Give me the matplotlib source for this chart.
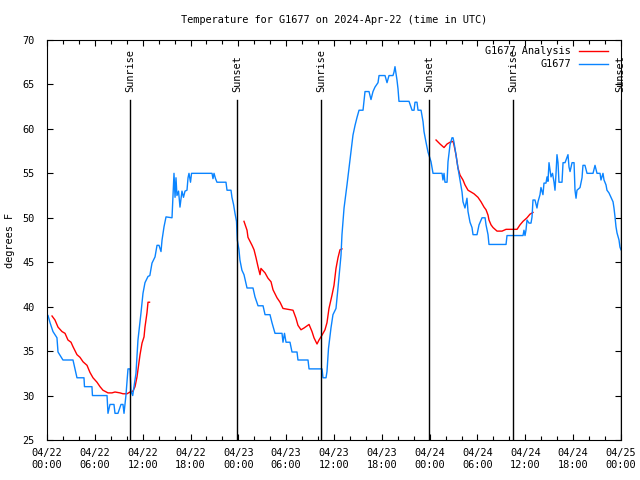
import numpy as np
import matplotlib
matplotlib.use("Agg")
import matplotlib.pyplot as plt
from matplotlib.ticker import MultipleLocator

# ---- data (hours since 2024-04-22 00:00 UTC, degrees F) ----
obs_hours = [0.13, 0.38, 0.75, 1.25, 1.38, 2.0, 3.26, 3.76, 4.64, 4.7, 5.64, 5.7, 7.53, 7.65, 7.9, 8.4, 8.53, 8.9,
             9.28, 9.53, 9.66, 9.9, 10.16, 10.41, 10.54, 10.75, 11.16, 11.41, 11.79, 12.04, 12.29, 12.67, 12.9,
             13.17, 13.55, 13.8, 14.05, 14.3, 14.43, 14.68, 14.93, 15.68, 15.93, 16.06, 16.18, 16.3, 16.5, 16.68,
             16.93, 17.12, 17.31, 17.56, 17.69, 17.81, 18.0, 18.13, 18.31, 20.7, 20.82, 20.95, 21.14, 21.32, 22.45,
             22.58, 23.08, 23.2, 23.4, 23.58, 23.77, 23.87, 24.08, 24.2, 24.45, 24.71, 25.09, 25.84, 26.09, 26.47,
             27.1, 27.35, 27.97, 28.22, 28.6, 29.48, 29.6, 29.79, 29.98, 30.48, 30.73, 31.36, 31.48, 32.74, 32.87,
             34.5, 34.62, 35.0, 35.12, 35.31, 35.62, 35.87, 36.25, 36.5, 36.88, 37.0, 37.26, 37.63, 37.88, 38.13,
             38.38, 38.64, 38.89, 39.14, 39.64, 39.89, 40.39, 40.64, 40.89, 41.14, 41.52, 41.65, 42.4, 42.65, 42.9,
             43.4, 43.53, 43.65, 43.9, 44.03, 44.15, 45.41, 45.79, 46.04, 46.16, 46.41, 46.54, 46.92, 47.17, 47.29,
             47.54, 47.79, 48.17, 48.42, 49.55, 49.67, 49.8, 49.92, 50.18, 50.3, 50.55, 50.8, 50.93, 51.05, 51.3,
             51.55, 51.81, 52.06, 52.18, 52.43, 52.68, 52.81, 53.06, 53.31, 53.44, 53.94, 54.19, 54.57, 54.95,
             55.07, 55.32, 55.44, 57.58, 57.7, 59.71, 59.83, 59.96, 60.08, 60.21, 60.46, 60.71, 60.84, 60.96,
             61.21, 61.46, 61.59, 61.84, 61.96, 62.21, 62.34, 62.59, 62.72, 62.84, 62.97, 63.22, 63.41, 63.6,
             63.72, 63.85, 63.97, 64.1, 64.22, 64.6, 64.73, 64.98, 65.1, 65.35, 65.48, 65.61, 65.86, 66.11, 66.23,
             66.36, 66.48, 66.86, 67.11, 67.23, 67.48, 67.74, 68.49, 68.74, 68.99, 69.37, 69.49, 69.74, 69.87,
             70.12, 70.24, 70.49, 70.74, 71.0, 71.12, 71.25, 71.37, 71.5, 71.75, 71.87, 72.0]
obs_temp = [39.0, 38.2, 37.2, 36.5, 34.9, 34.0, 34.0, 32.0, 32.0, 31.0, 31.0, 30.0, 30.0, 28.0, 29.0, 29.0, 28.0, 28.0,
            29.0, 29.0, 28.0, 30.0, 33.0, 33.0, 30.5, 30.0, 32.5, 36.25, 39.3, 41.5, 42.7, 43.4, 43.5,
            44.9, 45.6, 46.9, 46.9, 46.2, 47.5, 49.0, 50.1, 50.0, 55.0, 52.3, 54.5, 52.5, 53.0, 51.2,
            53.0, 52.3, 53.0, 53.1, 54.5, 55.0, 54.0, 55.0, 55.0, 55.0, 54.4, 55.0, 54.4, 54.0, 54.0,
            53.1, 53.1, 52.3, 51.5, 50.5, 49.6, 47.5, 46.4, 45.25, 44.1, 43.6, 42.1, 42.1, 41.1, 40.1,
            40.1, 39.1, 39.1, 38.2, 37.0, 37.0, 36.0, 37.0, 36.0, 36.0, 34.9, 34.9, 34.0, 34.0, 33.0,
            33.0, 32.0, 32.0, 32.7, 35.3, 37.6, 39.1, 39.8, 42.1, 45.8, 48.1, 51.1, 53.7, 55.6, 57.4,
            59.3, 60.4, 61.3, 62.1, 62.1, 64.2, 64.2, 63.3, 64.2, 64.7, 65.2, 66.0, 66.0, 65.2, 66.0,
            66.0, 66.4, 67.0, 65.5, 64.5, 63.1, 63.1, 62.1, 62.1, 63.0, 63.0, 62.1, 62.1, 60.8, 59.7,
            58.5, 57.4, 56.3, 55.0, 55.0, 54.25, 55.0, 54.0, 54.0, 56.3, 58.2, 59.0, 59.0, 58.5, 57.1,
            55.6, 54.25, 52.9, 51.8, 51.1, 52.2, 50.7, 49.5, 48.9, 48.1, 48.1, 49.2, 50.0, 50.0,
            49.2, 48.1, 47.0, 47.0, 48.0, 48.0, 48.6, 48.0, 48.6, 49.75, 49.4, 49.4, 50.1, 52.0,
            52.0, 51.1, 51.8, 52.6, 53.4, 52.6, 53.9, 53.9, 54.6, 54.1, 56.2, 54.6, 55.0, 54.0,
            53.1, 55.0, 57.1, 56.2, 54.0, 54.0, 56.2, 56.2, 56.5, 57.1, 55.7, 55.2, 56.2, 56.2, 53.1,
            52.2, 53.1, 53.4, 54.5, 55.9, 55.9, 55.0, 55.0, 55.9, 55.0, 55.0, 54.25, 55.0, 54.25,
            53.7, 53.1, 52.8, 52.3, 51.8, 51.1, 50.1, 49.0, 48.3, 47.5, 46.7, 46.4]

ana_hours_1 = [0.63, 1.0, 1.38, 1.88, 2.26, 2.63, 3.01, 3.26, 3.76, 4.14, 4.52, 5.02, 5.39, 5.77, 6.27, 6.65, 7.02,
               7.65, 8.15, 8.53, 9.16, 9.53, 10.04, 10.41, 10.79, 11.04, 11.29, 11.41, 11.67, 11.92, 12.17, 12.29,
               12.54, 12.67, 12.86]
ana_temp_1 = [38.95, 38.5, 37.7, 37.2, 37.0, 36.25, 36.0, 35.5, 34.6, 34.3, 33.8, 33.4, 32.6, 32.0, 31.5, 31.0, 30.6,
              30.3, 30.3, 30.4, 30.3, 30.2, 30.2, 30.4, 30.5, 31.0, 32.1, 32.9, 34.6, 35.9, 36.6, 37.7,
              39.3, 40.5, 40.5]
ana_hours_2 = [24.71, 25.09, 25.21, 25.72, 25.97, 26.22, 26.47, 26.72, 26.84, 27.35, 27.72, 28.1, 28.35, 28.85, 29.23,
               29.6, 30.23, 30.86, 31.23, 31.48, 31.86, 32.24, 32.87, 33.24, 33.49, 33.87, 34.12, 34.5, 34.87, 35.12,
               35.37, 35.75, 36.0, 36.25, 36.5, 36.75, 37.0]
ana_temp_2 = [49.6, 48.6, 47.8, 46.9, 46.4, 45.5, 44.5, 43.6, 44.3, 43.8, 43.2, 42.8, 41.9, 41.0, 40.5,
              39.8, 39.7, 39.6, 38.7, 37.9, 37.4, 37.6, 38.0, 37.2, 36.5, 35.8, 36.25, 36.8, 37.4, 38.2,
              39.8, 41.3, 42.4, 44.3, 45.5, 46.4, 46.5]
ana_hours_3 = [48.8, 49.3, 49.8, 50.18, 50.55, 50.93, 51.05, 51.3, 51.55, 51.81, 52.18, 52.43, 52.81, 53.19, 53.56,
               54.06, 54.44, 54.82, 55.07, 55.32, 55.44, 55.7, 55.95, 56.45, 57.08, 57.58, 58.96, 59.33, 59.71,
               60.21, 60.58, 60.96]
ana_temp_3 = [58.75, 58.3, 57.9, 58.3, 58.5, 58.6, 58.2, 57.1, 55.6, 54.8, 54.25, 53.7, 53.1, 52.9, 52.7,
              52.3, 51.8, 51.2, 50.9, 50.3, 49.75, 49.2, 48.9, 48.5, 48.5, 48.7, 48.7, 49.2, 49.6,
              50.0, 50.4, 50.6]

sun_hours = [10.41, 23.83, 34.37, 47.92, 58.46, 71.95]
sun_labels = ["Sunrise", "Sunset", "Sunrise", "Sunset", "Sunrise", "Sunset"]

xtick_hours = [0, 6, 12, 18, 24, 30, 36, 42, 48, 54, 60, 66, 72]
xtick_labels = ["04/22\n00:00", "04/22\n06:00", "04/22\n12:00", "04/22\n18:00",
                "04/23\n00:00", "04/23\n06:00", "04/23\n12:00", "04/23\n18:00",
                "04/24\n00:00", "04/24\n06:00", "04/24\n12:00", "04/24\n18:00",
                "04/25\n00:00"]

FONT = "DejaVu Sans Mono"
FS = 7.4
plt.rcParams['font.family'] = [FONT]
plt.rcParams['font.size'] = FS

fig = plt.figure(figsize=(6.4, 4.8), dpi=100)
ax = fig.add_axes([47/640, 1 - 440/480, (621-47)/640, 400/480])

ana_h = ana_hours_1 + [np.nan] + ana_hours_2 + [np.nan] + ana_hours_3
ana_t = ana_temp_1 + [np.nan] + ana_temp_2 + [np.nan] + ana_temp_3

ax.plot(ana_h, ana_t, color='#ff0000', lw=1.0, label='G1677 Analysis')
ax.plot(obs_hours, obs_temp, color='#0a84ff', lw=1.0, label='G1677')

for h, lab in zip(sun_hours, sun_labels):
    ax.plot([h, h], [25, 63.3], color='black', lw=1.0)
    ax.text(h, 64.1, lab, rotation=90, ha='center', va='bottom', fontsize=FS, clip_on=False)

ax.set_xlim(0, 72)
ax.set_ylim(25, 70)
ax.set_xticks(xtick_hours)
ax.set_xticklabels(xtick_labels)
ax.xaxis.set_minor_locator(MultipleLocator(2))
ax.yaxis.set_major_locator(MultipleLocator(5))
ax.tick_params(which='both', direction='in', top=True, right=True, width=0.8)
ax.tick_params(which='major', length=4.5)
ax.tick_params(which='minor', length=3)
ax.tick_params(axis='x', which='major', pad=6)
ax.tick_params(axis='y', which='major', pad=9)
for sp in ax.spines.values():
    sp.set_linewidth(0.8)

fig.text(334/640, 1 - 20/480, "Temperature for G1677 on 2024-Apr-22 (time in UTC)",
         ha='center', va='center', fontsize=FS)
fig.text(10/640, 0.5, "degrees F", rotation=90, ha='center', va='center', fontsize=FS)

leg = ax.legend(loc='upper right', bbox_to_anchor=(1.0 - 7/574, 1.0), frameon=False, markerfirst=False,
                handlelength=2.8, handletextpad=0.8, labelspacing=0.3, borderaxespad=0.2,
                fontsize=FS)

fig.savefig("out.png", dpi=100)
